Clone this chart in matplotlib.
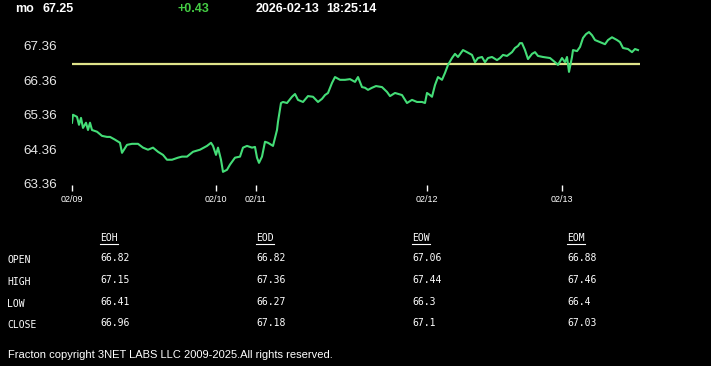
import numpy as np
import matplotlib
matplotlib.use("Agg")
import matplotlib.pyplot as plt

# header
symbol = "mo"
last_price = "67.25"
change = "+0.43"
stamp_date = "2026-02-13"
stamp_time = "18:25:14"

# intraday series (bar index, price)
bars = [0, 1, 5, 7, 9, 11, 14, 16, 18, 20, 25, 30, 35, 38, 43, 48, 50, 55, 60, 66,
        71, 76, 81, 86, 91, 95, 100, 106, 110, 115, 121, 128, 135, 139, 141, 144, 146, 149, 151, 155,
        158, 163, 168, 171, 175, 180, 183, 185, 187, 190, 193, 196, 201, 205, 206, 209, 211, 215, 220, 223,
        226, 231, 236, 241, 246, 250, 253, 256, 260, 263, 268, 273, 278, 283, 286, 290, 293, 296, 300, 304,
        310, 315, 318, 323, 330, 335, 340, 345, 350, 353, 355, 358, 360, 363, 366, 370, 373, 376, 380, 383,
        386, 391, 395, 400, 403, 406, 410, 413, 416, 420, 425, 428, 431, 435, 440, 443, 446, 448, 450, 453,
        456, 460, 463, 466, 471, 478, 483, 486, 490, 493, 495, 497, 500, 501, 505, 508, 511, 514, 517, 520,
        523, 528, 533, 536, 540, 545, 548, 551, 556, 560, 563, 566]
prices = [65.13, 65.36, 65.30, 65.07, 65.27, 64.98, 65.13, 64.92, 65.13, 64.92, 64.87, 64.75, 64.72, 64.72, 64.64, 64.55, 64.26, 64.49, 64.52, 64.52,
          64.41, 64.35, 64.41, 64.29, 64.20, 64.06, 64.06, 64.12, 64.15, 64.15, 64.29, 64.35, 64.46, 64.55, 64.46, 64.20, 64.41, 64.06, 63.71, 63.77,
          63.92, 64.12, 64.15, 64.41, 64.46, 64.41, 64.43, 64.12, 63.97, 64.15, 64.58, 64.55, 64.46, 64.92, 65.16, 65.70, 65.73, 65.70, 65.88, 65.96,
          65.79, 65.73, 65.90, 65.88, 65.73, 65.82, 65.93, 65.99, 66.28, 66.45, 66.37, 66.37, 66.39, 66.31, 66.45, 66.16, 66.14, 66.08, 66.14, 66.19,
          66.16, 66.02, 65.90, 65.99, 65.93, 65.70, 65.79, 65.73, 65.73, 65.70, 65.99, 65.93, 65.88, 66.22, 66.45, 66.37, 66.57, 66.80, 67.00, 67.12,
          67.03, 67.23, 67.17, 67.09, 66.88, 67.00, 67.03, 66.88, 67.00, 67.03, 66.94, 67.00, 67.09, 67.06, 67.17, 67.29, 67.35, 67.43, 67.43, 67.23,
          66.97, 67.12, 67.17, 67.06, 67.03, 67.00, 66.88, 66.80, 67.00, 66.88, 67.03, 66.60, 67.03, 67.23, 67.20, 67.32, 67.58, 67.69, 67.75, 67.66,
          67.52, 67.46, 67.40, 67.52, 67.60, 67.52, 67.46, 67.29, 67.26, 67.17, 67.26, 67.23]
ref_level = 66.82
ref_span = [0, 568]

day_starts = [0, 144, 184, 355, 490]
day_labels = ["02/09", "02/10", "02/11", "02/12", "02/13"]
price_ticks = [63.36, 64.36, 65.36, 66.36, 67.36]

# summary table
periods = ["EOH", "EOD", "EOW", "EOM"]
fields = ["OPEN", "HIGH", "LOW", "CLOSE"]
eoh = [66.82, 67.15, 66.41, 66.96]
eod = [66.82, 67.36, 66.27, 67.18]
eow = [67.06, 67.44, 66.3, 67.1]
eom = [66.88, 67.46, 66.4, 67.03]
table = [eoh, eod, eow, eom]

footer = "Fracton copyright 3NET LABS LLC 2009-2025.All rights reserved."

W, H = 711, 366
fig = plt.figure(figsize=(W / 100, H / 100), dpi=100, facecolor="black")


def fx(x):
    return x / W


def fy(y):
    return 1 - y / H


ax = fig.add_axes([fx(72), fy(185), fx(568), 155 / H])
ax.set_facecolor("black")
ax.plot(ref_span, [ref_level, ref_level], color="#dfe38a", lw=1.6)
ax.plot(bars, prices, color="#44dd77", lw=1.5)
ax.set_xlim(0, 568)
ax.set_ylim(63.33, 67.81)
for s in ax.spines.values():
    s.set_visible(False)
ax.set_yticks(price_ticks)
ax.set_yticklabels([f"{v:.2f}" for v in price_ticks], fontsize=9.6,
                   family="Liberation Sans", color="#e8e8e8")
ax.tick_params(axis="y", length=0, pad=11)
ax.set_xticks(day_starts)
ax.set_xticklabels(day_labels, fontsize=6.5, family="Liberation Sans", color="white")
ax.tick_params(axis="x", length=4, width=1, color="white", pad=3, direction="out")

# header
hdr = dict(fontsize=9, fontweight="bold", family="Liberation Sans", va="center")
fig.text(fx(25), fy(9.5), symbol, color="white", ha="center", **hdr)
fig.text(fx(58), fy(9.5), last_price, color="white", ha="center", **hdr)
fig.text(fx(193.5), fy(9.5), change, color="#44cc44", ha="center", **hdr)
fig.text(fx(320), fy(9.5), stamp_date, color="white", ha="right", **hdr)
fig.text(fx(326), fy(9.5), stamp_time, color="white", ha="left", **hdr)

# table
mono = dict(fontsize=7, family="DejaVu Sans Mono", color="white", va="center", ha="left")
col_x = [100, 256, 412, 567]
row_y = [258, 280, 302, 323]
fig.canvas.draw()
renderer = fig.canvas.get_renderer()
for cx, name, vals in zip(col_x, periods, table):
    t = fig.text(fx(cx), fy(238), name, **mono)
    bb = t.get_window_extent(renderer)
    fig.add_artist(plt.Line2D([bb.x0 / W, bb.x1 / W], [fy(243.5), fy(243.5)],
                              color="white", lw=0.8, transform=fig.transFigure))
    for ry, v in zip(row_y, vals):
        fig.text(fx(cx), fy(ry), str(v), **mono)
for ry, f in zip(row_y, fields):
    fig.text(fx(7), fy(ry + 2), f, **mono)

fig.text(fx(8), fy(355), footer, fontsize=8, family="Liberation Sans",
         color="white", va="center", ha="left")

fig.savefig("out.png", dpi=100, facecolor="black")
